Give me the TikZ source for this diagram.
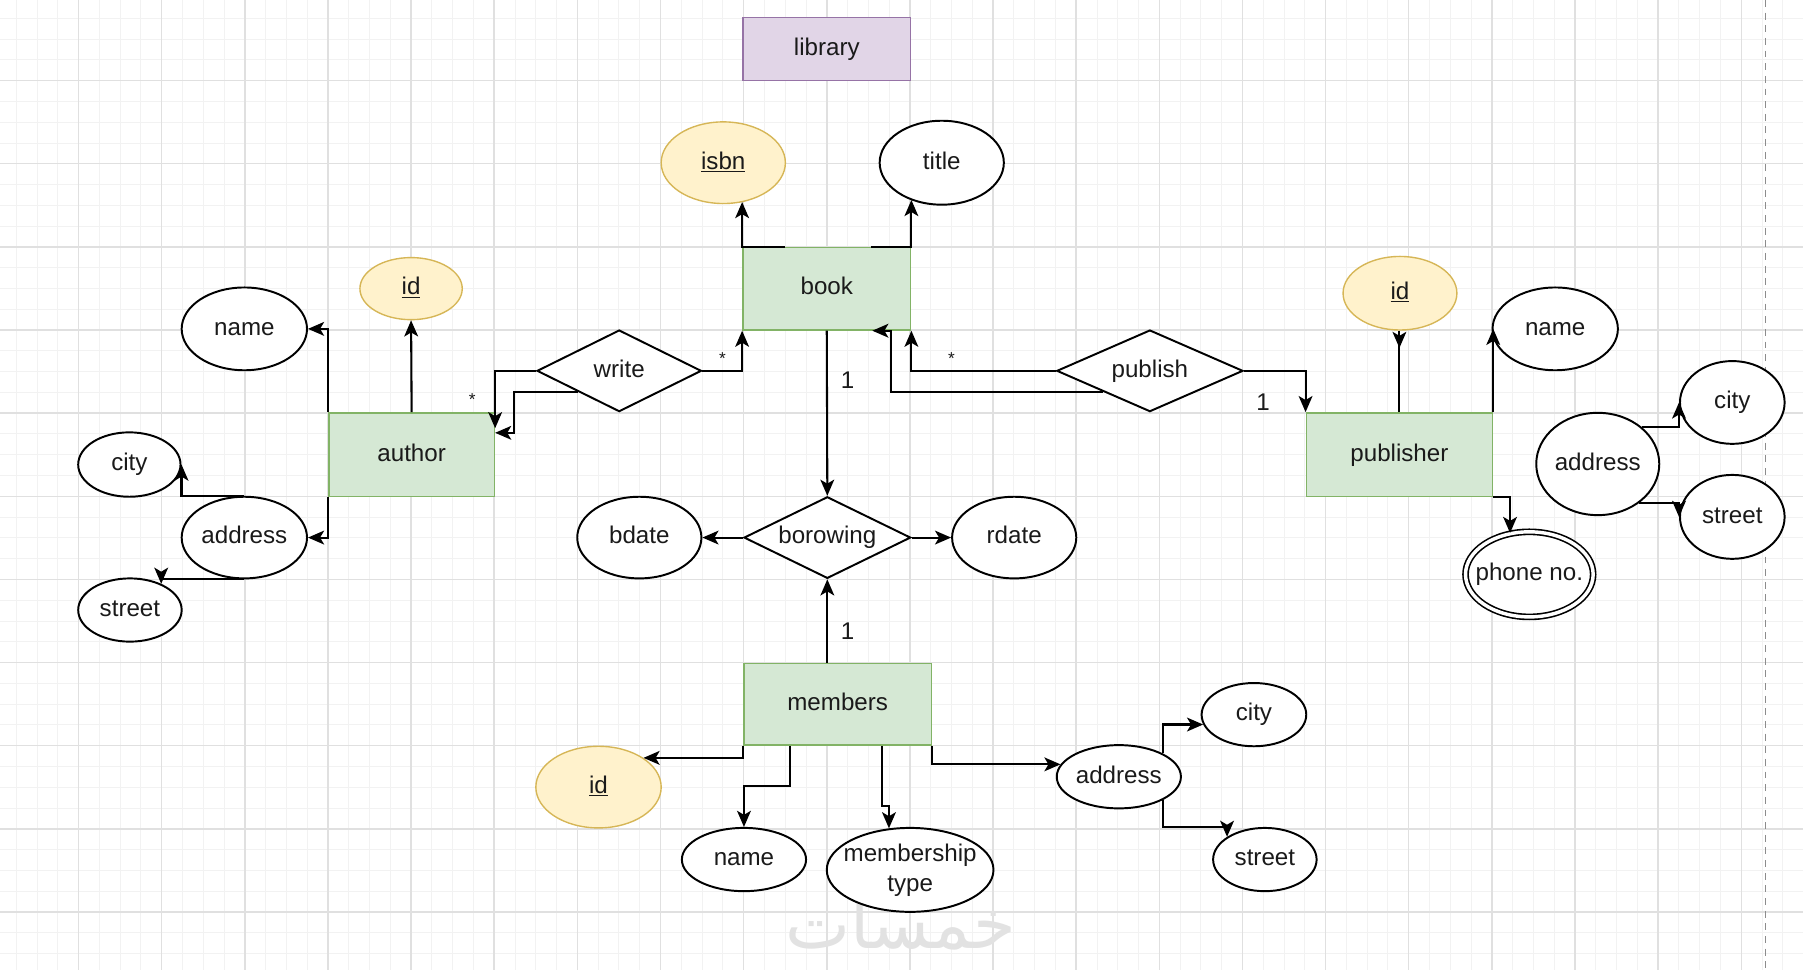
\documentclass[tikz,border=0pt]{standalone}
\usepackage{fontspec}
\setmainfont{Liberation Sans}
\newfontfamily\arabicfont[Script=Arabic]{DejaVu Sans}
\TeXXeTstate=1
\usetikzlibrary{shapes.geometric,arrows.meta,calc}
\definecolor{entf}{HTML}{D5E8D4}
\definecolor{entb}{HTML}{82B366}
\definecolor{keyf}{HTML}{FFF2CC}
\definecolor{keyb}{HTML}{D6B656}
\definecolor{libf}{HTML}{E1D5E7}
\definecolor{libb}{HTML}{9673A6}
\definecolor{gmaj}{HTML}{E0E0E0}
\definecolor{gmin}{HTML}{F2F2F2}
\definecolor{txt}{HTML}{1A1A1A}
\definecolor{wm}{HTML}{E2E2E2}
\newcommand{\mzb}[1]{\makebox[0pt]{#1}}
\begin{document}
\begin{tikzpicture}[x=1pt,y=-1pt,
  base/.style={font=\fontsize{21}{25}\selectfont, text=txt, inner sep=0pt, text height=15pt, text depth=4pt},
  ent/.style={base, rectangle, draw=entb, fill=entf, line width=1.2pt},
  lib/.style={base, rectangle, draw=libb, fill=libf, line width=1.2pt},
  keyattr/.style={base, ellipse, draw=keyb, fill=keyf, line width=1.2pt},
  attr/.style={base, ellipse, draw=black, fill=white, line width=1.7pt},
  rel/.style={base, diamond, draw=black, fill=white, line width=1.7pt},
  conn/.style={draw=black, line width=1.8pt, -{Stealth[length=14pt,width=12pt,inset=3.5pt]}},
  plain/.style={draw=black, line width=1.8pt},
  card/.style={anchor=base, text=txt, font=\fontsize{21}{21}\selectfont, inner sep=0pt},
  star/.style={anchor=base, text=txt, font=\fontsize{15}{15}\selectfont, inner sep=0pt},
]
\useasboundingbox (0,0) rectangle (1568,843.5);
\fill[white] (0,0) rectangle (1568,843.5);
% grid
\foreach \i in {0,...,88} \draw[gmin, line width=0.8pt] ({-4+\i*18.075},0) -- ({-4+\i*18.075},843.5);
\foreach \j in {0,...,47} \draw[gmin, line width=0.8pt] (0,{-2.2+\j*18.075}) -- (1568,{-2.2+\j*18.075});
\foreach \i in {0,...,22} \draw[gmaj, line width=1.3pt] ({-4+\i*72.3},0) -- ({-4+\i*72.3},843.5);
\foreach \j in {0,...,12} \draw[gmaj, line width=1.3pt] (0,{-2.2+\j*72.3}) -- (1568,{-2.2+\j*72.3});
\draw[black!45, line width=1pt, dash pattern=on 6pt off 5pt] (1535,0) -- (1535,843.5);
% watermark
\node[text=wm, font=\arabicfont\fontsize{60}{60}\selectfont, inner sep=0pt] (wmark) at (783.5,803) {\beginR خمسات\endR};

% title
\node[lib, minimum width=146pt, minimum height=55pt] (library) at (719,42.5) {library};

% book
\node[ent, minimum width=146pt, minimum height=72pt] (book) at (719,251) {book};
\node[keyattr, minimum width=108pt, minimum height=71pt] (isbn) at (629,141.5) {\mzb{\underline{isbn}}};
\node[attr, minimum width=108pt, minimum height=73pt] (title) at (819,141.5) {\mzb{title}};

% author
\node[ent, minimum width=144pt, minimum height=73pt] (author) at (358,395.5) {author};
\node[keyattr, minimum width=89pt, minimum height=54pt] (aid) at (357.5,251) {\mzb{\underline{id}}};
\node[attr, minimum width=109pt, minimum height=72pt] (aname) at (212.5,286) {\mzb{name}};
\node[attr, minimum width=89pt, minimum height=56pt] (acity) at (112.5,404) {\mzb{city}};
\node[attr, minimum width=109pt, minimum height=71pt] (aaddr) at (212.5,467.5) {\mzb{address}};
\node[attr, minimum width=90pt, minimum height=55pt] (astreet) at (113,530.5) {\mzb{street}};

% relationships
\node[rel, minimum width=143pt, minimum height=71pt] (write) at (538.5,322.5) {\mzb{write}};
\node[rel, minimum width=162pt, minimum height=71pt] (publish) at (1000,322.5) {\mzb{publish}};
\node[rel, minimum width=145pt, minimum height=71pt] (borrow) at (719.5,467.5) {\mzb{borowing}};
\node[attr, minimum width=108pt, minimum height=71pt] (bdate) at (556,467.5) {\mzb{bdate}};
\node[attr, minimum width=108pt, minimum height=71pt] (rdate) at (882,467.5) {\mzb{rdate}};

% members
\node[ent, minimum width=163pt, minimum height=71pt] (members) at (728.5,612.5) {members};
\node[keyattr, minimum width=109pt, minimum height=71pt] (mid) at (520.5,684.5) {\mzb{\underline{id}}};
\node[attr, minimum width=108pt, minimum height=55pt] (mname) at (647,747.5) {\mzb{name}};
\node[attr, minimum width=145pt, minimum height=73pt] (mtype) at (791.5,756.5) {};
\node[font=\fontsize{21}{26}\selectfont, text=txt, align=center, inner sep=0pt] (mtypetext) at (mtype.center) {membership\\type};
\node[attr, minimum width=108pt, minimum height=55pt] (maddr) at (973,675.5) {\mzb{address}};
\node[attr, minimum width=91pt, minimum height=55pt] (mcity) at (1090.5,621.5) {\mzb{city}};
\node[attr, minimum width=90pt, minimum height=55pt] (mstreet) at (1100,747.5) {\mzb{street}};

% publisher
\node[ent, minimum width=162pt, minimum height=73pt] (publisher) at (1217,395.5) {publisher};
\node[keyattr, minimum width=99pt, minimum height=64pt] (pid) at (1217.5,255) {\mzb{\underline{id}}};
\node[attr, minimum width=109pt, minimum height=72pt] (pname) at (1352.5,286) {\mzb{name}};
\node[attr, minimum width=107pt, minimum height=89pt] (paddr) at (1389.5,403.5) {\mzb{address}};
\node[attr, minimum width=91pt, minimum height=72pt] (pcity) at (1506.5,350) {\mzb{city}};
\node[attr, minimum width=91pt, minimum height=73pt] (pstreet) at (1506.5,449.5) {\mzb{street}};
\node[attr, double, double distance=3pt, line width=1.4pt, minimum width=111pt, minimum height=74pt] (phone) at (1330,499.5) {\mzb{phone no.}};

% connectors: book
\draw[conn] ($(book.north west)+(37,0)$) -- (book.north west) -- (book.north west |- isbn.-63);
\draw[conn] ($(book.north east)+(-35,0)$) -- (book.north east) -- (book.north east |- title.-130);
\draw[conn] (book.south) -- (borrow.north);
\draw[conn] (members.north -| borrow.north) -- (borrow.south);
\draw[conn] (borrow.west) -- (bdate.east);
\draw[conn] (borrow.east) -- (rdate.west);

% write
\draw[conn] (write.east) -| (book.south west);
\draw[conn] (write.west) -| ($(author.north east)+(0,14)$);
\draw[conn] (write.south west) -- ++(-55,0) |- ($(author.north east)+(0,18)$);

% publish
\draw[conn] (publish.west) -| (book.south east);
\draw[conn] (publish.south west) -| ($(book.south east)+(-18,0)$) -- ($(book.south east)+(-34,0)$);
\draw[conn] (publish.east) -| (publisher.north west);

% author attributes
\draw[conn] (author.north) -- (aid.south);
\draw[conn] (author.north west) |- (aname.east);
\draw[conn] (author.south west) |- (aaddr.east);
\draw[conn] (aaddr.north) -| (acity.east);
\draw[conn] (aaddr.south) -| (astreet.40);

% publisher attributes
\draw[plain] (publisher.north) -- (publisher.north |- pid.south);
\draw[conn] (publisher.north |- pid.south) -- ++(0,15);
\draw[conn] (publisher.north east) -- (publisher.north east |- pname.west);
\draw[conn] (publisher.south east) -| (phone.115);
\draw[conn] (paddr.40) -| (pcity.west);
\draw[conn] (paddr.-43) -| (pstreet.west);

% members attributes
\draw[conn] (members.south west) |- (mid.33);
\draw[conn] ($(members.south west)+(41,0)$) -- ++(0,35) -| (mname.north);
\draw[conn] ($(members.south west)+(121,0)$) -- ++(0,52) -| (mtype.117);
\draw[conn] (members.south east) |- (maddr.168);
\draw[conn] (maddr.28) |- (mcity.191);
\draw[conn] (maddr.-28) -- ++(0,23) -| (mstreet.149);

% cardinalities
\node[star] (s1) at (628.4,317) {*};
\node[star] (s2) at (410.7,352.5) {*};
\node[star] (s3) at (827.5,317) {*};
\node[card] (c1) at (737,338) {1};
\node[card] (c2) at (1098.5,357) {1};
\node[card] (c3) at (737,556) {1};
\end{tikzpicture}
\end{document}
